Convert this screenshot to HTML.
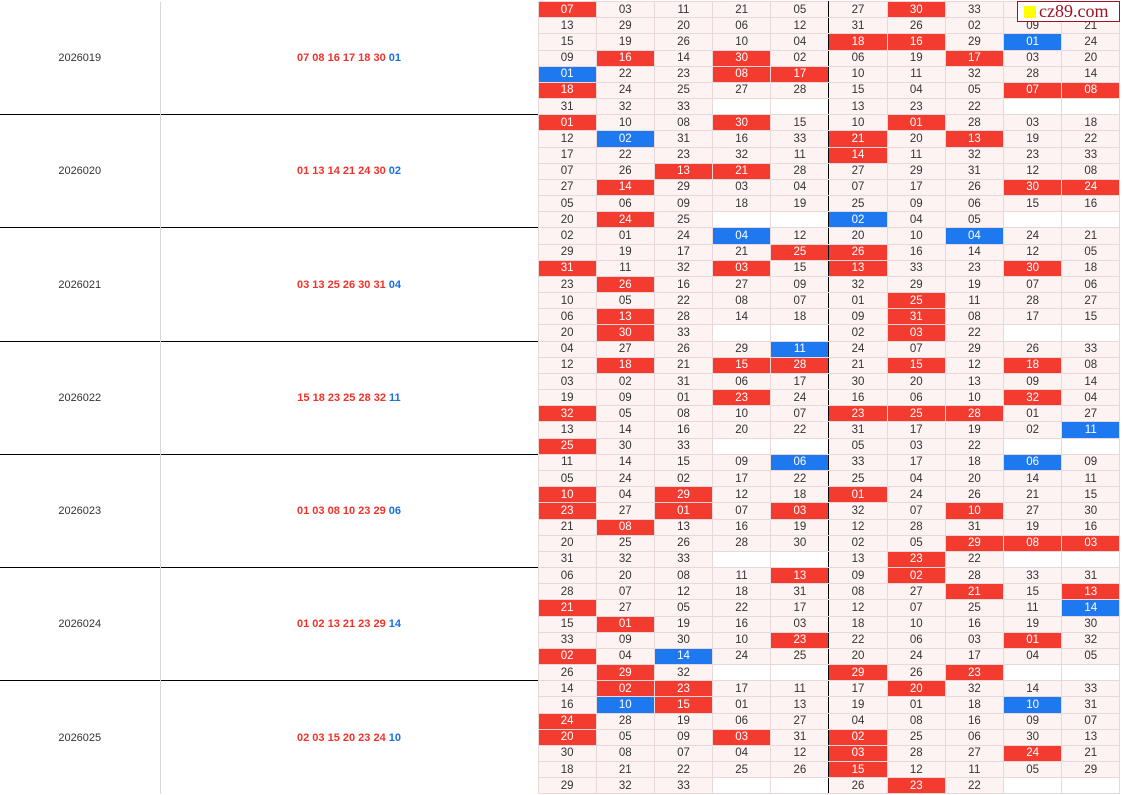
<!DOCTYPE html>
<html><head><meta charset="utf-8"><style>
body{margin:0;width:1123px;height:795px;overflow:hidden;background:#fff;font-family:"Liberation Sans",sans-serif}
table{position:absolute;left:0;top:1px;border-collapse:collapse;table-layout:fixed;width:1120px}
td{height:15.18px;padding:0;border:1px solid #ead8d8;background:#fdf3f3;text-align:center;font-size:11.5px;color:#333;line-height:14px;overflow:hidden;white-space:nowrap}
td.p{background:#fff;border:none;border-right:1px solid #d8d8d8;font-size:11px;color:#333}
td.n{background:#fff;border:none;font-size:11px;font-weight:bold;color:#f0322a}
td.n span{color:#1a6fe0}
td.r{background:#f43b30;color:#fff}
td.b{background:#1e78f0;color:#fff}
td.e{background:#fff}
tr.g td{border-top:1px solid #000}
tr td:nth-last-child(5){border-left:1px solid #000}
tr td:nth-last-child(6){border-right:1px solid #000}
.logo{position:absolute;left:1017px;top:1px;width:103px;height:21px;background:#fff;border:1px solid #a01020;box-sizing:border-box;font-family:"Liberation Serif",serif;font-size:18px;color:#a01020;line-height:19px;padding-left:21px}
.logo i{position:absolute;left:6px;top:4px;width:12px;height:12px;background:#ffff00}
</style></head><body>
<table>
<colgroup><col style="width:160px"><col style="width:378px"><col span="10" style="width:58.2px"></colgroup>
<tr><td class="p" rowspan="7">2026019</td><td class="n" rowspan="7">07 08 16 17 18 30 <span>01</span></td><td class="r">07</td><td>03</td><td>11</td><td>21</td><td>05</td><td>27</td><td class="r">30</td><td>33</td><td>09</td><td>21</td></tr>
<tr><td>13</td><td>29</td><td>20</td><td>06</td><td>12</td><td>31</td><td>26</td><td>02</td><td>09</td><td>21</td></tr>
<tr><td>15</td><td>19</td><td>26</td><td>10</td><td>04</td><td class="r">18</td><td class="r">16</td><td>29</td><td class="b">01</td><td>24</td></tr>
<tr><td>09</td><td class="r">16</td><td>14</td><td class="r">30</td><td>02</td><td>06</td><td>19</td><td class="r">17</td><td>03</td><td>20</td></tr>
<tr><td class="b">01</td><td>22</td><td>23</td><td class="r">08</td><td class="r">17</td><td>10</td><td>11</td><td>32</td><td>28</td><td>14</td></tr>
<tr><td class="r">18</td><td>24</td><td>25</td><td>27</td><td>28</td><td>15</td><td>04</td><td>05</td><td class="r">07</td><td class="r">08</td></tr>
<tr><td>31</td><td>32</td><td>33</td><td class="e"></td><td class="e"></td><td>13</td><td>23</td><td>22</td><td class="e"></td><td class="e"></td></tr>

<tr class="g"><td class="p" rowspan="7">2026020</td><td class="n" rowspan="7">01 13 14 21 24 30 <span>02</span></td><td class="r">01</td><td>10</td><td>08</td><td class="r">30</td><td>15</td><td>10</td><td class="r">01</td><td>28</td><td>03</td><td>18</td></tr>
<tr><td>12</td><td class="b">02</td><td>31</td><td>16</td><td>33</td><td class="r">21</td><td>20</td><td class="r">13</td><td>19</td><td>22</td></tr>
<tr><td>17</td><td>22</td><td>23</td><td>32</td><td>11</td><td class="r">14</td><td>11</td><td>32</td><td>23</td><td>33</td></tr>
<tr><td>07</td><td>26</td><td class="r">13</td><td class="r">21</td><td>28</td><td>27</td><td>29</td><td>31</td><td>12</td><td>08</td></tr>
<tr><td>27</td><td class="r">14</td><td>29</td><td>03</td><td>04</td><td>07</td><td>17</td><td>26</td><td class="r">30</td><td class="r">24</td></tr>
<tr><td>05</td><td>06</td><td>09</td><td>18</td><td>19</td><td>25</td><td>09</td><td>06</td><td>15</td><td>16</td></tr>
<tr><td>20</td><td class="r">24</td><td>25</td><td class="e"></td><td class="e"></td><td class="b">02</td><td>04</td><td>05</td><td class="e"></td><td class="e"></td></tr>

<tr class="g"><td class="p" rowspan="7">2026021</td><td class="n" rowspan="7">03 13 25 26 30 31 <span>04</span></td><td>02</td><td>01</td><td>24</td><td class="b">04</td><td>12</td><td>20</td><td>10</td><td class="b">04</td><td>24</td><td>21</td></tr>
<tr><td>29</td><td>19</td><td>17</td><td>21</td><td class="r">25</td><td class="r">26</td><td>16</td><td>14</td><td>12</td><td>05</td></tr>
<tr><td class="r">31</td><td>11</td><td>32</td><td class="r">03</td><td>15</td><td class="r">13</td><td>33</td><td>23</td><td class="r">30</td><td>18</td></tr>
<tr><td>23</td><td class="r">26</td><td>16</td><td>27</td><td>09</td><td>32</td><td>29</td><td>19</td><td>07</td><td>06</td></tr>
<tr><td>10</td><td>05</td><td>22</td><td>08</td><td>07</td><td>01</td><td class="r">25</td><td>11</td><td>28</td><td>27</td></tr>
<tr><td>06</td><td class="r">13</td><td>28</td><td>14</td><td>18</td><td>09</td><td class="r">31</td><td>08</td><td>17</td><td>15</td></tr>
<tr><td>20</td><td class="r">30</td><td>33</td><td class="e"></td><td class="e"></td><td>02</td><td class="r">03</td><td>22</td><td class="e"></td><td class="e"></td></tr>

<tr class="g"><td class="p" rowspan="7">2026022</td><td class="n" rowspan="7">15 18 23 25 28 32 <span>11</span></td><td>04</td><td>27</td><td>26</td><td>29</td><td class="b">11</td><td>24</td><td>07</td><td>29</td><td>26</td><td>33</td></tr>
<tr><td>12</td><td class="r">18</td><td>21</td><td class="r">15</td><td class="r">28</td><td>21</td><td class="r">15</td><td>12</td><td class="r">18</td><td>08</td></tr>
<tr><td>03</td><td>02</td><td>31</td><td>06</td><td>17</td><td>30</td><td>20</td><td>13</td><td>09</td><td>14</td></tr>
<tr><td>19</td><td>09</td><td>01</td><td class="r">23</td><td>24</td><td>16</td><td>06</td><td>10</td><td class="r">32</td><td>04</td></tr>
<tr><td class="r">32</td><td>05</td><td>08</td><td>10</td><td>07</td><td class="r">23</td><td class="r">25</td><td class="r">28</td><td>01</td><td>27</td></tr>
<tr><td>13</td><td>14</td><td>16</td><td>20</td><td>22</td><td>31</td><td>17</td><td>19</td><td>02</td><td class="b">11</td></tr>
<tr><td class="r">25</td><td>30</td><td>33</td><td class="e"></td><td class="e"></td><td>05</td><td>03</td><td>22</td><td class="e"></td><td class="e"></td></tr>

<tr class="g"><td class="p" rowspan="7">2026023</td><td class="n" rowspan="7">01 03 08 10 23 29 <span>06</span></td><td>11</td><td>14</td><td>15</td><td>09</td><td class="b">06</td><td>33</td><td>17</td><td>18</td><td class="b">06</td><td>09</td></tr>
<tr><td>05</td><td>24</td><td>02</td><td>17</td><td>22</td><td>25</td><td>04</td><td>20</td><td>14</td><td>11</td></tr>
<tr><td class="r">10</td><td>04</td><td class="r">29</td><td>12</td><td>18</td><td class="r">01</td><td>24</td><td>26</td><td>21</td><td>15</td></tr>
<tr><td class="r">23</td><td>27</td><td class="r">01</td><td>07</td><td class="r">03</td><td>32</td><td>07</td><td class="r">10</td><td>27</td><td>30</td></tr>
<tr><td>21</td><td class="r">08</td><td>13</td><td>16</td><td>19</td><td>12</td><td>28</td><td>31</td><td>19</td><td>16</td></tr>
<tr><td>20</td><td>25</td><td>26</td><td>28</td><td>30</td><td>02</td><td>05</td><td class="r">29</td><td class="r">08</td><td class="r">03</td></tr>
<tr><td>31</td><td>32</td><td>33</td><td class="e"></td><td class="e"></td><td>13</td><td class="r">23</td><td>22</td><td class="e"></td><td class="e"></td></tr>

<tr class="g"><td class="p" rowspan="7">2026024</td><td class="n" rowspan="7">01 02 13 21 23 29 <span>14</span></td><td>06</td><td>20</td><td>08</td><td>11</td><td class="r">13</td><td>09</td><td class="r">02</td><td>28</td><td>33</td><td>31</td></tr>
<tr><td>28</td><td>07</td><td>12</td><td>18</td><td>31</td><td>08</td><td>27</td><td class="r">21</td><td>15</td><td class="r">13</td></tr>
<tr><td class="r">21</td><td>27</td><td>05</td><td>22</td><td>17</td><td>12</td><td>07</td><td>25</td><td>11</td><td class="b">14</td></tr>
<tr><td>15</td><td class="r">01</td><td>19</td><td>16</td><td>03</td><td>18</td><td>10</td><td>16</td><td>19</td><td>30</td></tr>
<tr><td>33</td><td>09</td><td>30</td><td>10</td><td class="r">23</td><td>22</td><td>06</td><td>03</td><td class="r">01</td><td>32</td></tr>
<tr><td class="r">02</td><td>04</td><td class="b">14</td><td>24</td><td>25</td><td>20</td><td>24</td><td>17</td><td>04</td><td>05</td></tr>
<tr><td>26</td><td class="r">29</td><td>32</td><td class="e"></td><td class="e"></td><td class="r">29</td><td>26</td><td class="r">23</td><td class="e"></td><td class="e"></td></tr>

<tr class="g"><td class="p" rowspan="7">2026025</td><td class="n" rowspan="7">02 03 15 20 23 24 <span>10</span></td><td>14</td><td class="r">02</td><td class="r">23</td><td>17</td><td>11</td><td>17</td><td class="r">20</td><td>32</td><td>14</td><td>33</td></tr>
<tr><td>16</td><td class="b">10</td><td class="r">15</td><td>01</td><td>13</td><td>19</td><td>01</td><td>18</td><td class="b">10</td><td>31</td></tr>
<tr><td class="r">24</td><td>28</td><td>19</td><td>06</td><td>27</td><td>04</td><td>08</td><td>16</td><td>09</td><td>07</td></tr>
<tr><td class="r">20</td><td>05</td><td>09</td><td class="r">03</td><td>31</td><td class="r">02</td><td>25</td><td>06</td><td>30</td><td>13</td></tr>
<tr><td>30</td><td>08</td><td>07</td><td>04</td><td>12</td><td class="r">03</td><td>28</td><td>27</td><td class="r">24</td><td>21</td></tr>
<tr><td>18</td><td>21</td><td>22</td><td>25</td><td>26</td><td class="r">15</td><td>12</td><td>11</td><td>05</td><td>29</td></tr>
<tr><td>29</td><td>32</td><td>33</td><td class="e"></td><td class="e"></td><td>26</td><td class="r">23</td><td>22</td><td class="e"></td><td class="e"></td></tr>
</table>
<div class="logo"><i></i>cz89.com</div>
</body></html>
